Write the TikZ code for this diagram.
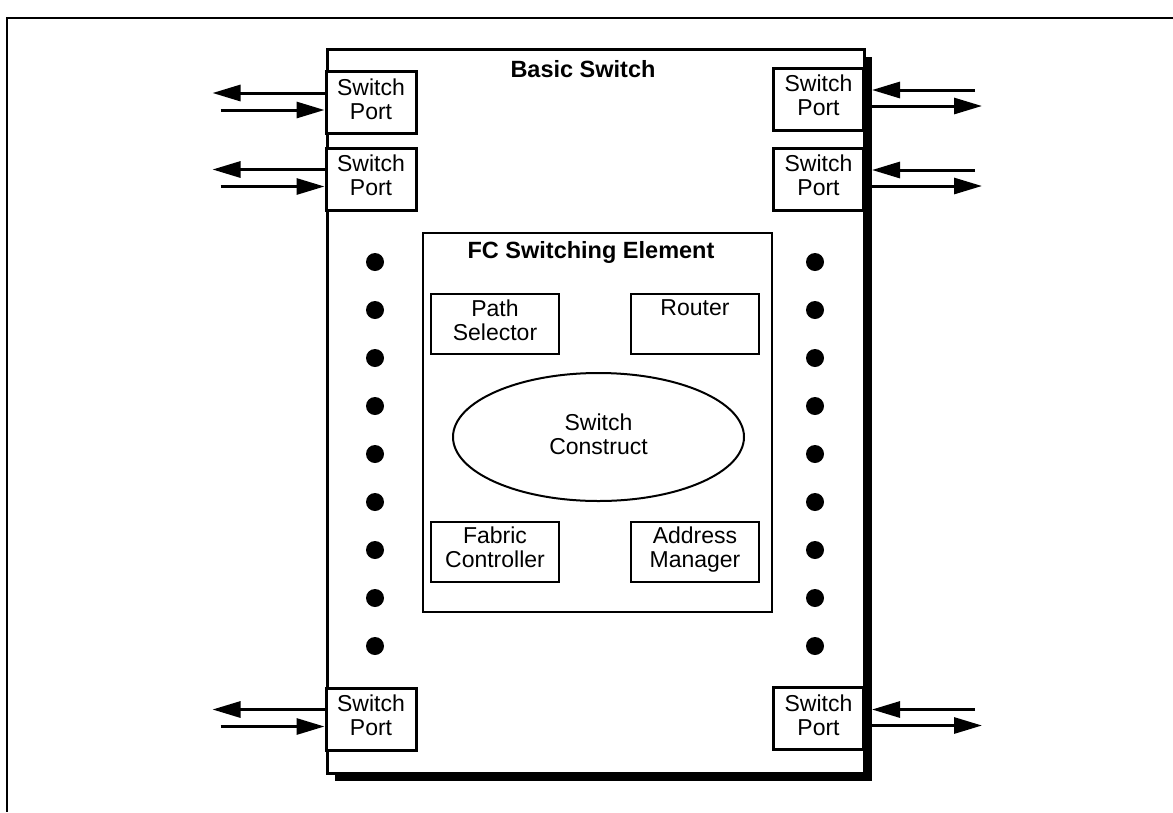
\documentclass[tikz,border=0pt]{standalone}
\usepackage{fontspec}
\setmainfont{Liberation Sans}
\usepackage{tikz}
\usetikzlibrary{
  arrows.meta,
  calc,
  positioning,
  shadows,
  shapes,
}
\tikzstyle{arrow} = [
  -{Triangle[length=28pt,width=16pt]},
  line width=3pt,
]
\tikzstyle{port} = [
  draw,
  line width=3pt,
  fill=white,
  minimum width=90pt,
  minimum height=62pt,
  inner sep=0pt,
  align=center,
  text depth=7pt,
]
\tikzstyle{unit} = [
  draw,
  line width=2pt,
  minimum width=128pt,
  minimum height=60pt,
  inner sep=0pt,
  align=center,
  text depth=8pt,
]
\tikzstyle{dot} = [circle, fill=black, minimum size=18pt, inner sep=0pt]
\tikzstyle{title} = [anchor=base, font=\fontsize{23.5}{24}\selectfont\bfseries]

\begin{document}
\begin{tikzpicture}[x=1pt, y=-1pt]
  \tikzstyle{every node}=[font=\fontsize{23}{24}\selectfont]
  \useasboundingbox (0,0) rectangle (1173,812);
  \draw[line width=2pt] (1173,18) -- (7,18) -- (7,812);

  \node[draw, line width=3pt, fill=white, minimum width=537pt, minimum height=724pt,
    general shadow={fill=black, shadow xshift=8pt, shadow yshift=-8pt}] (switch) at (595.5,411) {};
  \node[title] (switchtitle) at (583,77) {Basic Switch};

  \node[port] (pl1) at (371,102.5) {Switch\\Port};
  \node[port] (pl2) at (371,179) {Switch\\Port};
  \node[port] (pl3) at (371,719) {Switch\\Port};
  \node[port] (pr1) at (818.5,99) {Switch\\Port};
  \node[port] (pr2) at (818.5,179) {Switch\\Port};
  \node[port] (pr3) at (818.5,718.5) {Switch\\Port};

  \node[draw, line width=2pt, minimum width=349pt, minimum height=379pt] (fc) at (597.5,422.5) {};
  \node[title] (fctitle) at (591,258) {FC Switching Element};
  \node[unit] (path) at (495,324) {Path\\Selector};
  \node[unit, text depth=32pt] (router) at (695,324) {Router};
  \node[draw, ellipse, line width=2pt, minimum width=291pt, minimum height=128pt,
    inner sep=0pt, align=center, text depth=6pt] (construct) at (598.5,437) {Switch\\Construct};
  \node[unit] (fabric) at (495,551.5) {Fabric\\Controller};
  \node[unit] (address) at (695,551.5) {Address\\Manager};

  \foreach \i in {0,...,8} {
    \node[dot] (dl\i) at (375,262+48*\i) {};
    \node[dot] (dr\i) at (815,262+48*\i) {};
  }

  \foreach \p in {pl1,pl2,pl3} {
    \coordinate (\p-out) at ($(\p.west)+(-112,-9.5)$);
    \coordinate (\p-in) at ($(\p.west)+(-104,7.5)$);
    \draw[arrow] (\p.west |- \p-out) -- (\p-out);
    \draw[arrow] (\p-in) -- (\p.west |- \p-in);
  }
  \foreach \p in {pr1,pr2,pr3} {
    \coordinate (\p-edge) at ($(\p.east)+(7,0)$);
    \coordinate (\p-in) at ($(\p.east)+(110,-9)$);
    \coordinate (\p-out) at ($(\p.east)+(117,7)$);
    \draw[arrow] (\p-in) -- (\p-edge |- \p-in);
    \draw[arrow] (\p-edge |- \p-out) -- (\p-out);
  }
\end{tikzpicture}
\end{document}
